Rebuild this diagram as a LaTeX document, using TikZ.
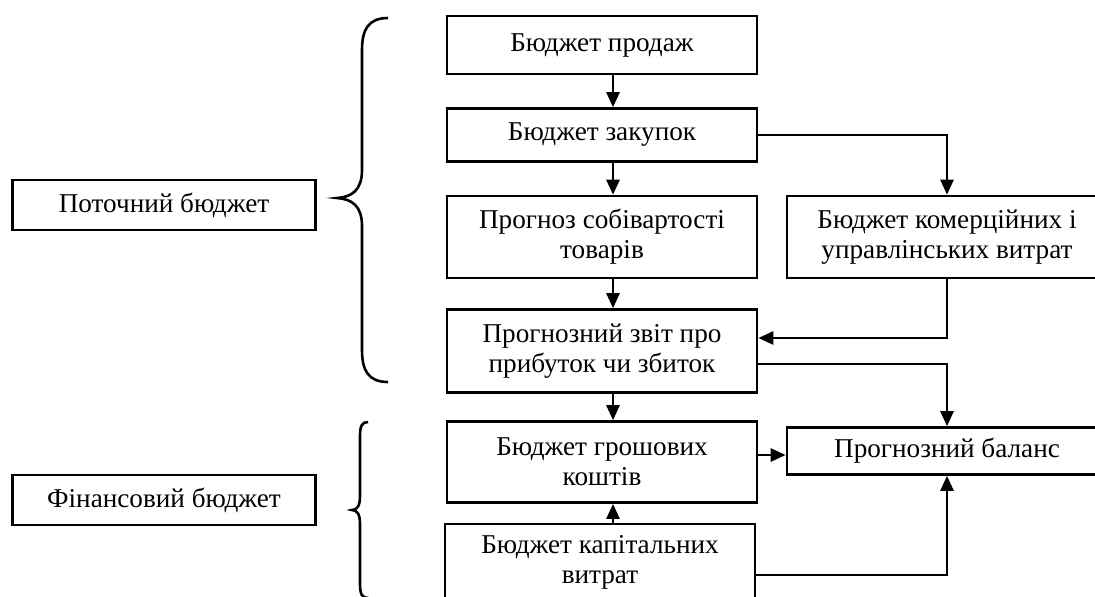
\documentclass[tikz,border=0pt]{standalone}
\usepackage{fontspec}
\setmainfont{Liberation Serif}
\usetikzlibrary{arrows.meta}

\begin{document}
\begin{tikzpicture}[x=0.5pt,y=-0.5pt]
					\clip (0,0) rectangle (1095,596);
					\tikzstyle{every node}=[font=\fontsize{13.6}{15}\selectfont];
					\tikzstyle{blok}=[draw, line width=1.3pt, align=center, inner sep=2pt, minimum width=155pt];
					\tikzstyle{shyrokyi}=[blok, minimum width=160pt];
					\tikzstyle{strilka}=[line width=1.3pt, -{Triangle[length=7.5pt,width=6.5pt]}];
					\path (602,45) node[blok, minimum height=29pt] (prodazh) {Бюджет продаж};
					\path (602,135) node[blok, minimum height=26.5pt] (zakupky) {Бюджет закупок};
					\path (602,237) node[blok, minimum height=41pt] (sobivart) {Прогноз собівартості\\товарів};
					\path (947,237) node[shyrokyi, minimum height=41pt] (komerc) {Бюджет комерційних і\\управлінських витрат};
					\path (602,351) node[blok, minimum height=41.5pt] (zvit) {Прогнозний звіт про\\прибуток чи збиток};
					\path (602,462) node[blok, minimum height=40.5pt] (groshi) {Бюджет грошових\\коштів};
					\path (947,451) node[shyrokyi, minimum height=23.5pt] (balans) {Прогнозний баланс};
					\path (600,562) node[blok, minimum height=38pt] (kapital) {Бюджет капітальних\\витрат};
					\path (164,205) node[blok, minimum width=151.5pt, minimum height=25pt] (potochnyi) {Поточний бюджет};
					\path (164,500) node[blok, minimum width=151.5pt, minimum height=25pt] (finans) {Фінансовий бюджет};
					\draw[strilka] ([xshift=5.5pt]prodazh.south) -- ([xshift=5.5pt]zakupky.north);
					\draw[strilka] ([xshift=5.5pt]zakupky.south) -- ([xshift=5.5pt]sobivart.north);
					\draw[strilka] (zakupky.east) -| (komerc.north);
					\draw[strilka] ([xshift=5.5pt]sobivart.south) -- ([xshift=5.5pt]zvit.north);
					\draw[strilka] (komerc.south) |- ([yshift=6.5pt]zvit.east);
					\draw[strilka] ([yshift=-6.5pt]zvit.east) -| (balans.north);
					\draw[strilka] ([xshift=5.5pt]zvit.south) -- ([xshift=5.5pt]groshi.south |- groshi.north);
					\draw[strilka] ([yshift=3.5pt]groshi.east) -- ([yshift=3.5pt]groshi.east -| balans.west);
					\draw[strilka] ([xshift=6.5pt]kapital.north) -- ([xshift=5.5pt]groshi.south);
					\draw[strilka] ([yshift=-6.5pt]kapital.east) -| (balans.south);
					% duzhky
					\draw[line width=1.3pt] (388,18) .. controls (368,18) and (362,30) .. (362,50) -- (362,170)
						.. controls (362,190) and (352,197) .. (337,198) .. controls (352,199) and (362,206) .. (362,226)
						-- (362,350) .. controls (362,370) and (368,382) .. (388,382);
					\draw[line width=1.3pt] (368,422) .. controls (362,422) and (360,426) .. (360,436) -- (360,496)
						.. controls (360,506) and (357,510) .. (352,510) .. controls (357,510) and (360,514) .. (360,524)
						-- (360,584) .. controls (360,594) and (362,598) .. (368,598);
\end{tikzpicture}
\end{document}
